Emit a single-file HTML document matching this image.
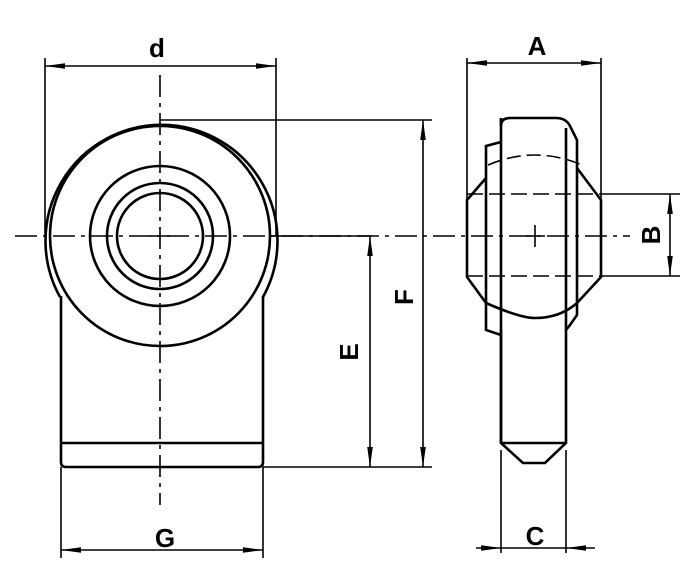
<!DOCTYPE html>
<html><head><style>
html,body{margin:0;padding:0;background:#fff;width:700px;height:584px;overflow:hidden}
svg{display:block}
text{font-family:"Liberation Sans",sans-serif;font-size:26px;font-weight:bold;fill:#000}
</style></head><body>
<svg width="700" height="584" viewBox="0 0 700 584" xmlns="http://www.w3.org/2000/svg">
<defs>
<marker id="ar" viewBox="0 0 20 8" refX="20" refY="4" markerWidth="20" markerHeight="8" markerUnits="userSpaceOnUse" orient="auto-start-reverse">
<path d="M0,1.2 L20,4 L0,6.8 Z" fill="#000"/></marker>
</defs>
<g fill="none" stroke="#000" stroke-width="2.6">
<path d="M60,297 A116,116 0 1 1 263,297"/>
<circle cx="160" cy="236" r="110"/>
<circle cx="160" cy="236" r="70"/>
<circle cx="160" cy="236" r="53"/>
<circle cx="160" cy="236" r="43"/>
<path d="M61,296 L61,462 Q61,467 66,467 L258,467 Q263,467 263,462 L263,296"/>
<line x1="61" y1="443" x2="263" y2="443"/>
<path d="M501,118 L501,126 Q501,118 510,118 L556,118 Q566,118 570,126 L577,140 L577,315 L570,325 L566,330 L566,443 L545,463 L523,463 L501,443 L501,330"/>
<path d="M501,118 L501,443"/>
<path d="M566,128 L566,330"/>
<path d="M501,142 L486,146 L486,330 L501,335"/>
<path d="M486,178 L467,200 L467,277 L486,303"/>
<path d="M577,168 L601,200 L601,277 L577,303"/>
<path d="M486,303 Q520,318 535,318 Q560,318 577,303"/>
<line x1="501" y1="443" x2="566" y2="443"/>
</g>
<g fill="none" stroke="#000" stroke-width="1.6">
<path d="M488,165 Q535,145 582,165" stroke-dasharray="14,6"/>
<line x1="467" y1="194" x2="601" y2="194" stroke-dasharray="16,6"/>
<line x1="467" y1="276" x2="601" y2="276" stroke-dasharray="16,6"/>
<line x1="601" y1="194" x2="680" y2="194"/>
<line x1="601" y1="276" x2="680" y2="276"/>
<line x1="15" y1="236" x2="630" y2="236" stroke-dasharray="22,6,4,6"/>
<line x1="270" y1="236" x2="372" y2="236"/>
<line x1="160" y1="75" x2="160" y2="505" stroke-dasharray="22,6,4,6"/>
<line x1="150" y1="236" x2="170" y2="236"/>
<line x1="535" y1="225" x2="535" y2="247"/>
<line x1="526" y1="236" x2="545" y2="236"/>
<line x1="45" y1="58" x2="45" y2="236"/>
<line x1="276" y1="58" x2="276" y2="236"/>
<line x1="160" y1="120" x2="432" y2="120"/>
<line x1="263" y1="467" x2="432" y2="467"/>
<line x1="61" y1="467" x2="61" y2="558"/>
<line x1="263" y1="467" x2="263" y2="558"/>
<line x1="467" y1="58" x2="467" y2="200"/>
<line x1="601" y1="58" x2="601" y2="200"/>
<line x1="501" y1="450" x2="501" y2="553"/>
<line x1="566" y1="450" x2="566" y2="553"/>
<line x1="45" y1="66" x2="276" y2="66" marker-start="url(#ar)" marker-end="url(#ar)"/>
<line x1="467" y1="63" x2="601" y2="63" marker-start="url(#ar)" marker-end="url(#ar)"/>
<line x1="423" y1="120" x2="423" y2="467" marker-start="url(#ar)" marker-end="url(#ar)"/>
<line x1="370" y1="236" x2="370" y2="467" marker-start="url(#ar)" marker-end="url(#ar)"/>
<line x1="61" y1="550" x2="263" y2="550" marker-start="url(#ar)" marker-end="url(#ar)"/>
<line x1="670" y1="194" x2="670" y2="276" marker-start="url(#ar)" marker-end="url(#ar)"/>
<line x1="476" y1="548" x2="501" y2="548" marker-end="url(#ar)"/>
<line x1="595" y1="548" x2="566" y2="548" marker-end="url(#ar)"/>
<line x1="501" y1="548" x2="566" y2="548"/>
</g>
<text x="157" y="57" text-anchor="middle">d</text>
<text x="537" y="55" text-anchor="middle">A</text>
<text x="165" y="547" text-anchor="middle">G</text>
<text x="535" y="545" text-anchor="middle">C</text>
<text transform="translate(660,235) rotate(-90)" text-anchor="middle">B</text>
<text transform="translate(413,297) rotate(-90)" text-anchor="middle">F</text>
<text transform="translate(358,352) rotate(-90)" text-anchor="middle">E</text>
</svg>
</body></html>
